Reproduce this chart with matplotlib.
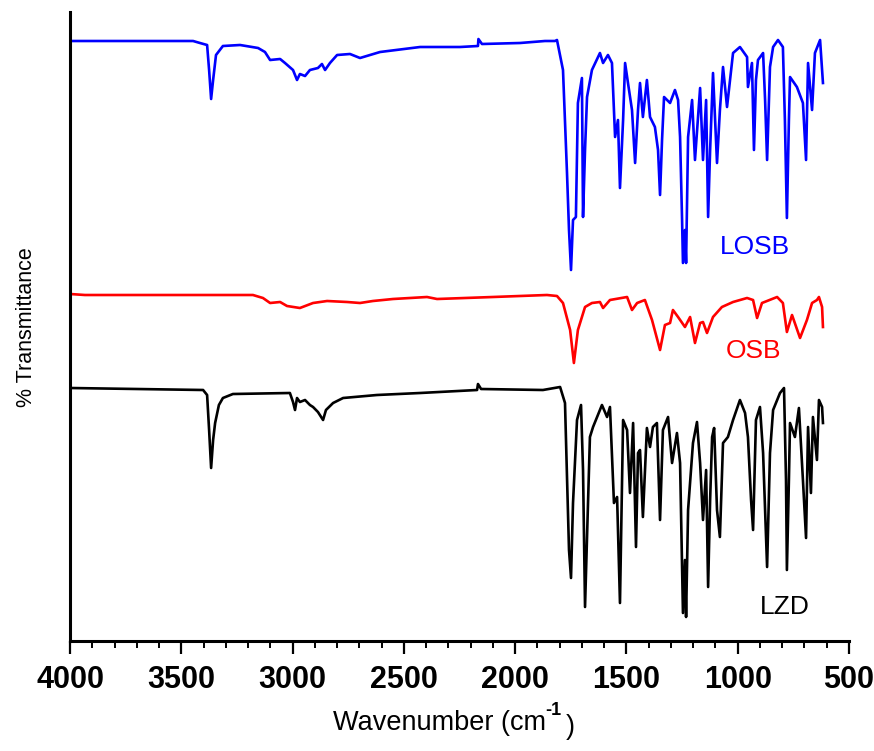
import matplotlib
matplotlib.use("Agg")
import matplotlib.pyplot as plt
from matplotlib.ticker import MultipleLocator

plt.rcParams['font.family'] = ['Liberation Sans', 'DejaVu Sans']

# FTIR spectra (wavenumber in cm-1, transmittance in arbitrary stacked units)
losb_wn = [4000, 3447, 3416, 3384, 3375, 3366, 3357, 3344, 3313, 3236, 3155, 3124, 3101, 3056,
           3034, 2998, 2980, 2967, 2944, 2922, 2886, 2868, 2854, 2832, 2800, 2742, 2697, 2607,
           2427, 2248, 2167, 2165, 2149, 1978, 1866, 1821, 1812, 1785, 1767, 1758, 1749, 1740,
           1727, 1718, 1700, 1695, 1686, 1677, 1655, 1619, 1605, 1583, 1565, 1551, 1538, 1529,
           1515, 1506, 1493, 1475, 1461, 1448, 1439, 1426, 1408, 1394, 1372, 1358, 1349, 1340,
           1331, 1304, 1282, 1268, 1259, 1250, 1246, 1237, 1232, 1223, 1205, 1192, 1169, 1156,
           1142, 1133, 1124, 1111, 1093, 1080, 1066, 1048, 1021, 990, 958, 954, 936, 927, 918,
           909, 886, 877, 868, 855, 841, 819, 797, 788, 779, 770, 765, 734, 707, 693, 684, 666,
           653, 630, 617]
losb_t = [600, 600, 598, 596, 571, 542, 561, 586, 595, 596, 593, 589, 581, 582,
          578, 571, 561, 567, 565, 571, 573, 577, 571, 578, 586, 587, 583, 589,
          594, 594, 595, 602, 597, 598, 600, 600, 601, 571, 468, 411, 371, 421,
          424, 538, 563, 424, 491, 544, 571, 588, 578, 586, 578, 504, 521, 453,
          521, 578, 558, 531, 478, 531, 558, 524, 561, 524, 514, 491, 446, 501,
          544, 538, 551, 541, 504, 421, 378, 411, 378, 504, 541, 481, 553, 481,
          541, 424, 491, 568, 478, 531, 574, 534, 588, 594, 584, 554, 578, 491, 561,
          581, 588, 541, 481, 574, 594, 601, 594, 521, 423, 521, 564, 554, 538, 481, 578, 531,
          588, 601, 558]

osb_wn = [4000, 3933, 3178, 3133, 3101, 3056, 3025, 2967, 2908, 2845, 2755, 2697, 2639, 2549,
          2396, 2351, 2100, 1857, 1812, 1785, 1753, 1736, 1718, 1686, 1655, 1619, 1605, 1574,
          1497, 1475, 1452, 1417, 1385, 1349, 1327, 1304, 1291, 1268, 1237, 1214, 1192, 1169,
          1156, 1138, 1111, 1071, 1021, 958, 931, 913, 891, 823, 797, 779, 756, 720, 689, 666,
          644, 635, 621, 617]
osb_t = [347, 346, 346, 343, 338, 339, 335, 333, 338, 340, 339, 338, 340, 342,
         344, 342, 344, 346, 345, 338, 311, 278, 311, 334, 338, 339, 333, 341,
         344, 331, 338, 341, 321, 291, 316, 318, 331, 324, 314, 324, 298, 318,
         319, 308, 324, 334, 339, 343, 341, 323, 338, 344, 338, 309, 326, 303, 321, 338,
         341, 344, 334, 314]

lzd_wn = [4000, 3402, 3384, 3375, 3366, 3357, 3348, 3331, 3313, 3268, 3012, 2998, 2989, 2980,
          2967, 2944, 2922, 2908, 2886, 2863, 2850, 2818, 2773, 2621, 2427, 2171, 2167, 2153,
          1875, 1798, 1776, 1767, 1758, 1749, 1740, 1722, 1704, 1695, 1686, 1677, 1664, 1650,
          1610, 1587, 1574, 1556, 1542, 1529, 1515, 1497, 1484, 1470, 1457, 1448, 1439, 1426,
          1408, 1394, 1381, 1363, 1349, 1336, 1313, 1295, 1273, 1259, 1246, 1237, 1232, 1223,
          1201, 1183, 1169, 1156, 1142, 1133, 1124, 1115, 1106, 1093, 1080, 1066, 1044, 1021,
          990, 967, 954, 940, 931, 918, 900, 886, 868, 855, 841, 810, 792, 783, 779, 770, 765,
          743, 725, 707, 693, 684, 671, 662, 644, 635, 621, 617]
lzd_t = [253, 251, 246, 211, 173, 201, 218, 236, 243, 247, 248, 239, 231, 243,
         239, 241, 236, 234, 229, 221, 231, 238, 243, 246, 248, 251, 257, 252,
         251, 254, 238, 164, 91, 63, 138, 221, 236, 171, 34, 104, 204, 214,
         236, 224, 234, 138, 144, 38, 221, 211, 148, 218, 94, 188, 191, 124,
         213, 194, 214, 218, 121, 211, 224, 178, 208, 178, 28, 81, 24, 131,
         198, 219, 178, 121, 171, 54, 141, 204, 213, 131, 104, 198, 204, 221,
         241, 228, 204, 141, 111, 221, 234, 188, 74, 188, 231, 248, 253, 161, 71, 161, 218,
         204, 233, 161, 103, 214, 148, 224, 181, 241, 234, 218]

names = ["LOSB", "OSB", "LZD"]
colors = ["#0000ff", "#ff0000", "#000000"]
label_pos = [(922, 394), (931, 290), (790, 34)]

fig = plt.figure(figsize=(8.74, 7.51), dpi=100)
ax = fig.add_axes([70 / 874, 1 - 641 / 751, 779 / 874, 629 / 751])

for wn, t, c in zip([losb_wn, osb_wn, lzd_wn], [losb_t, osb_t, lzd_t], colors):
    ax.plot(wn, t, color=c, lw=1.9)

for name, c, (px, py) in zip(names, colors, label_pos):
    ax.text(px, py, name, color=c, fontsize=19, ha="center", va="center")

ax.set_xlim(4000, 500)
ax.set_ylim(0, 629)
ax.xaxis.set_major_locator(MultipleLocator(500))
ax.xaxis.set_minor_locator(MultipleLocator(100))
ax.tick_params(axis="x", which="major", direction="out", length=9.5, width=1.6, pad=8,
               labelsize=22)
ax.tick_params(axis="x", which="minor", direction="out", length=5, width=1.4)
for lab in ax.get_xticklabels():
    lab.set_fontweight("bold")
ax.set_yticks([])
for s in ["top", "right"]:
    ax.spines[s].set_visible(False)
for s in ["left", "bottom"]:
    ax.spines[s].set_linewidth(2.2)

# x label with raised bold exponent, drawn in pieces like the original
fig.text(333 / 874, 1 - 730 / 751, "Wavenumber (cm", fontsize=19.5, ha="left", va="baseline")
fig.text(545 / 874, 1 - 715 / 751, "-1", fontsize=13, fontweight="bold", ha="left", va="baseline")
fig.text(566 / 874, 1 - 734 / 751, ")", fontsize=19.5, ha="left", va="baseline")

fig.text(27 / 874, 1 - 327 / 751, "% Transmittance", rotation=90, fontsize=15.5,
         ha="center", va="center")

fig.savefig("out.png", dpi=100)
